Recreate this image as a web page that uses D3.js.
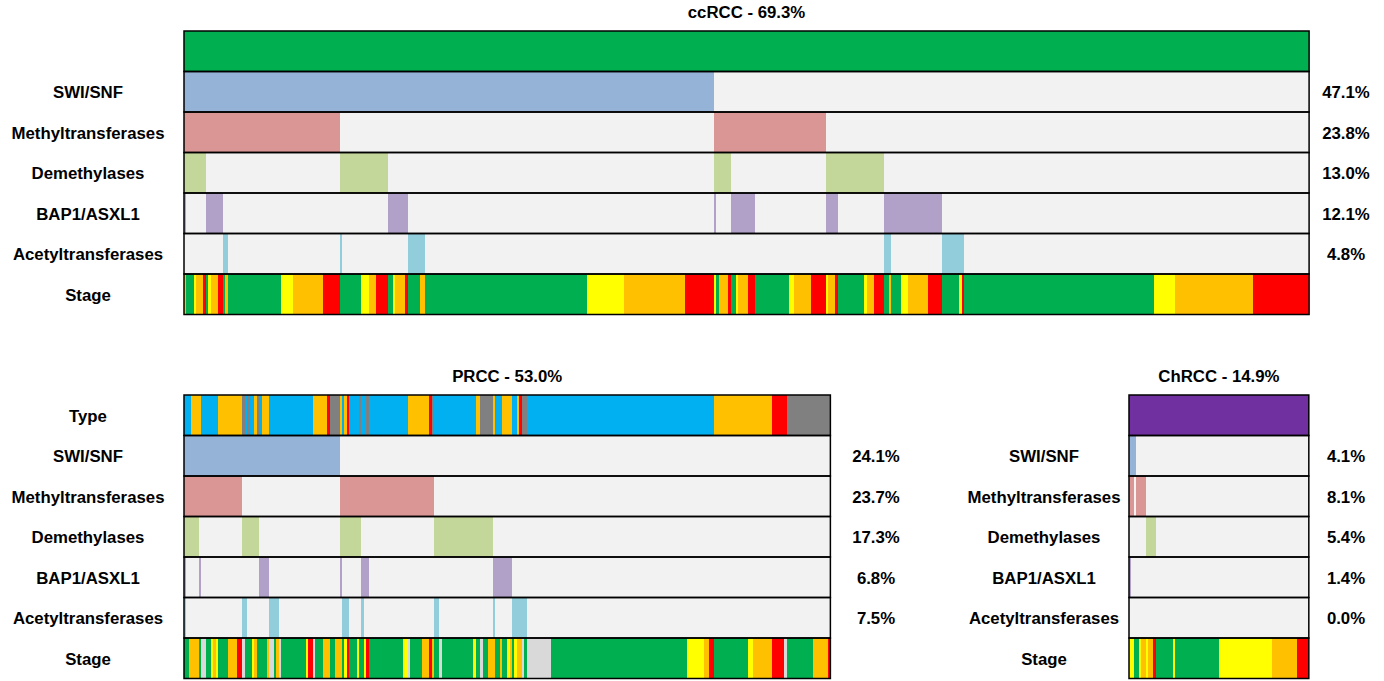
<!DOCTYPE html>
<html lang="en">
<head>
  <meta charset="UTF-8">
  <title>Chromatin remodeling alterations in RCC</title>
  <script src="https://d3js.org/d3.v7.min.js"></script>
  <style>
    body { margin: 0; background: #fff; }
    text { font-family: "Liberation Sans", Arial, sans-serif; font-weight: bold; fill: #000; }
  </style>
</head>
<body>
<svg id="chart" width="1384" height="681"></svg>
<script>
  // rows shown in each panel (first one is the subtype bar)
  const rowNames = ["Type", "SWI/SNF", "Methyltransferases", "Demethylases", "BAP1/ASXL1", "Acetyltransferases", "Stage"];
  const altRows = ["SWI/SNF", "Methyltransferases", "Demethylases", "BAP1/ASXL1", "Acetyltransferases"];

  const altColors = {
    "SWI/SNF": "#95B3D7",
    "Methyltransferases": "#DA9694",
    "Demethylases": "#C4D79B",
    "BAP1/ASXL1": "#B1A0C7",
    "Acetyltransferases": "#92CDDC"
  };
  const stageColors = { I: "#00B050", II: "#FFFF00", III: "#FFC000", IV: "#FF0000", NA: "#D9D9D9" };
  const typeColors = { ccRCC: "#00B050", ChRCC: "#7030A0", T1: "#00B0F0", T2: "#FFC000", CIMP: "#FF0000", NA: "#808080" };

  // ---- ccRCC (463 samples) ----
  const ccN = 463;
  const ccPct = ["47.1%", "23.8%", "13.0%", "12.1%", "4.8%"];
  const ccType = [[0, "ccRCC"]];
  const ccSWI = [[0, 218]];
  const ccMethyl = [[0, 64], [218, 264]];
  const ccDemethyl = [[0, 9], [64, 84], [218, 225], [264, 288]];
  const ccBAP1 = [[0, 1], [9, 16], [84, 92], [218, 219], [225, 235], [264, 269], [288, 312]];
  const ccAcetyl = [[16, 18], [64, 65], [92, 99], [288, 291], [312, 321]];
  // [first sample, stage] runs
  const ccStage = [[0,"III"],[1,"I"],[4,"II"],[5,"III"],[8,"IV"],[9,"I"],[10,"II"],[11,"III"],[14,"IV"],[16,"I"],
    [17,"III"],[18,"I"],[40,"II"],[45,"III"],[57,"IV"],[64,"I"],[73,"II"],[76,"III"],[79,"IV"],[84,"I"],
    [86,"II"],[87,"III"],[91,"IV"],[92,"I"],[97,"III"],[99,"I"],[166,"II"],[181,"III"],[206,"IV"],[218,"II"],
    [219,"I"],[220,"III"],[224,"IV"],[225,"I"],[227,"II"],[228,"III"],[232,"IV"],[235,"I"],[249,"II"],[251,"III"],
    [258,"IV"],[264,"II"],[265,"III"],[268,"IV"],[269,"I"],[280,"II"],[281,"III"],[284,"IV"],[288,"I"],[290,"III"],
    [291,"I"],[295,"II"],[298,"III"],[306,"IV"],[312,"I"],[319,"II"],[320,"IV"],[321,"I"],[399,"II"],[408,"III"],
    [440,"IV"]];

  // ---- PRCC (266 samples) ----
  const prN = 266;
  const prPct = ["24.1%", "23.7%", "17.3%", "6.8%", "7.5%"];
  const prType = [[0,"T1"],[3,"T2"],[7,"T1"],[14,"T2"],[24,"NA"],[25,"T1"],[26,"NA"],[27,"T1"],[29,"T2"],[30,"NA"],
    [31,"T1"],[32,"T2"],[35,"T1"],[53,"T2"],[59,"CIMP"],[60,"NA"],[64,"T2"],[65,"T1"],[66,"T2"],[67,"CIMP"],
    [68,"T1"],[72,"NA"],[73,"T1"],[75,"NA"],[76,"T1"],[92,"T2"],[101,"CIMP"],[102,"NA"],[103,"T1"],[120,"T2"],
    [122,"NA"],[127,"T2"],[128,"T1"],[131,"T2"],[135,"T1"],[137,"T2"],[138,"CIMP"],[139,"NA"],[141,"T1"],[218,"T2"],
    [242,"CIMP"],[248,"NA"]];
  const prSWI = [[0, 64]];
  const prMethyl = [[0, 24], [64, 103]];
  const prDemethyl = [[0, 6], [24, 31], [64, 73], [103, 127]];
  const prBAP1 = [[0, 1], [6, 7], [31, 35], [64, 65], [73, 76], [127, 135]];
  const prAcetyl = [[0, 1], [24, 26], [35, 39], [65, 68], [73, 74], [103, 105], [127, 128], [135, 141]];
  const prStage = [[0,"I"],[2,"III"],[6,"I"],[7,"NA"],[9,"I"],[11,"II"],[12,"III"],[13,"II"],[14,"I"],[18,"III"],
    [22,"IV"],[24,"NA"],[25,"I"],[28,"II"],[29,"III"],[30,"I"],[34,"III"],[35,"NA"],[37,"I"],[38,"III"],
    [39,"NA"],[40,"I"],[50,"II"],[51,"IV"],[53,"NA"],[54,"I"],[57,"III"],[60,"I"],[62,"III"],[65,"I"],
    [66,"II"],[67,"IV"],[68,"I"],[71,"II"],[72,"I"],[74,"II"],[75,"IV"],[76,"I"],[90,"II"],[92,"NA"],
    [93,"I"],[98,"III"],[101,"IV"],[102,"III"],[103,"I"],[105,"NA"],[106,"I"],[119,"II"],[120,"I"],[122,"NA"],
    [123,"I"],[125,"III"],[128,"I"],[130,"III"],[131,"I"],[133,"II"],[134,"III"],[135,"I"],[136,"II"],[137,"III"],
    [139,"NA"],[140,"I"],[141,"NA"],[151,"I"],[207,"II"],[214,"III"],[216,"IV"],[218,"I"],[232,"II"],[234,"III"],
    [242,"IV"],[247,"NA"],[248,"I"],[259,"III"],[265,"IV"]];

  // ---- ChRCC (74 samples) ----
  const chN = 74;
  const chPct = ["4.1%", "8.1%", "5.4%", "1.4%", "0.0%"];
  const chType = [[0, "ChRCC"]];
  const chSWI = [[0, 3]];
  const chMethyl = [[0, 2], [3, 7]];
  const chDemethyl = [[7, 11]];
  const chBAP1 = [[0, 1]];
  const chAcetyl = [];
  const chStage = [[0,"II"],[2,"I"],[4,"II"],[5,"III"],[7,"II"],[8,"III"],[10,"IV"],[11,"I"],[18,"II"],[19,"I"],
    [37,"II"],[59,"III"],[69,"IV"]];

  // layout
  const unit = 2.43;   // px per sample
  const rowH = 40.5;
  const panels = [
    { title: "ccRCC - 69.3%", n: ccN, left: 184, top: 31, labelX: 88, pctX: 1346, showType: false,
      type: ccType, alts: [ccSWI, ccMethyl, ccDemethyl, ccBAP1, ccAcetyl], stage: ccStage, pct: ccPct },
    { title: "PRCC - 53.0%", n: prN, left: 184, top: 395, labelX: 88, pctX: 876, showType: true,
      type: prType, alts: [prSWI, prMethyl, prDemethyl, prBAP1, prAcetyl], stage: prStage, pct: prPct },
    { title: "ChRCC - 14.9%", n: chN, left: 1129, top: 395, labelX: 1044, pctX: 1346, showType: false,
      type: chType, alts: [chSWI, chMethyl, chDemethyl, chBAP1, chAcetyl], stage: chStage, pct: chPct }
  ];

  const svg = d3.select("#chart");

  function runsToSegments(runs, n) {
    return runs.map((r, i) => ({ start: r[0], end: i < runs.length - 1 ? runs[i + 1][0] : n, code: r[1] }));
  }

  function drawPanel(p) {
    const x = d3.scaleLinear().domain([0, p.n]).range([p.left, p.left + p.n * unit]);
    const y = d3.scaleBand().domain(rowNames).range([p.top, p.top + rowNames.length * rowH]);
    const g = svg.append("g");

    g.append("text")
      .attr("x", (x(0) + x(p.n)) / 2)
      .attr("y", p.top - 13)
      .attr("text-anchor", "middle")
      .style("font-size", "16.8px")
      .text(p.title);

    // background of every row
    g.selectAll(".bg").data(rowNames).enter().append("rect")
      .attr("x", x(0)).attr("width", x(p.n) - x(0))
      .attr("y", d => y(d)).attr("height", y.bandwidth())
      .attr("fill", "#F2F2F2");

    // subtype bar
    g.selectAll(".type").data(runsToSegments(p.type, p.n)).enter().append("rect")
      .attr("x", d => x(d.start)).attr("width", d => x(d.end) - x(d.start))
      .attr("y", y("Type")).attr("height", y.bandwidth())
      .attr("fill", d => typeColors[d.code])
      .attr("shape-rendering", "crispEdges");

    // alteration rows
    altRows.forEach((row, i) => {
      g.selectAll(null).data(p.alts[i]).enter().append("rect")
        .attr("x", d => x(d[0])).attr("width", d => x(d[1]) - x(d[0]))
        .attr("y", y(row)).attr("height", y.bandwidth())
        .attr("fill", altColors[row])
        .attr("shape-rendering", "crispEdges");
    });

    // stage row
    g.selectAll(".stage").data(runsToSegments(p.stage, p.n)).enter().append("rect")
      .attr("x", d => x(d.start)).attr("width", d => x(d.end) - x(d.start))
      .attr("y", y("Stage")).attr("height", y.bandwidth())
      .attr("fill", d => stageColors[d.code])
      .attr("shape-rendering", "crispEdges");

    // row borders
    g.selectAll(".border").data(rowNames).enter().append("rect")
      .attr("x", x(0)).attr("width", x(p.n) - x(0))
      .attr("y", d => y(d)).attr("height", y.bandwidth())
      .attr("fill", "none")
      .attr("stroke", "#000")
      .attr("stroke-width", 1.5);

    // row labels
    const labels = p.showType ? rowNames : rowNames.slice(1);
    g.selectAll(".label").data(labels).enter().append("text")
      .attr("x", p.labelX)
      .attr("y", d => y(d) + y.bandwidth() / 2 + 6.5)
      .attr("text-anchor", "middle")
      .style("font-size", "16.8px")
      .text(d => d);

    // percentages
    g.selectAll(".pct").data(altRows).enter().append("text")
      .attr("x", p.pctX)
      .attr("y", d => y(d) + y.bandwidth() / 2 + 6.5)
      .attr("text-anchor", "middle")
      .style("font-size", "16.8px")
      .text((d, i) => p.pct[i]);
  }

  panels.forEach(drawPanel);
</script>
</body>
</html>
